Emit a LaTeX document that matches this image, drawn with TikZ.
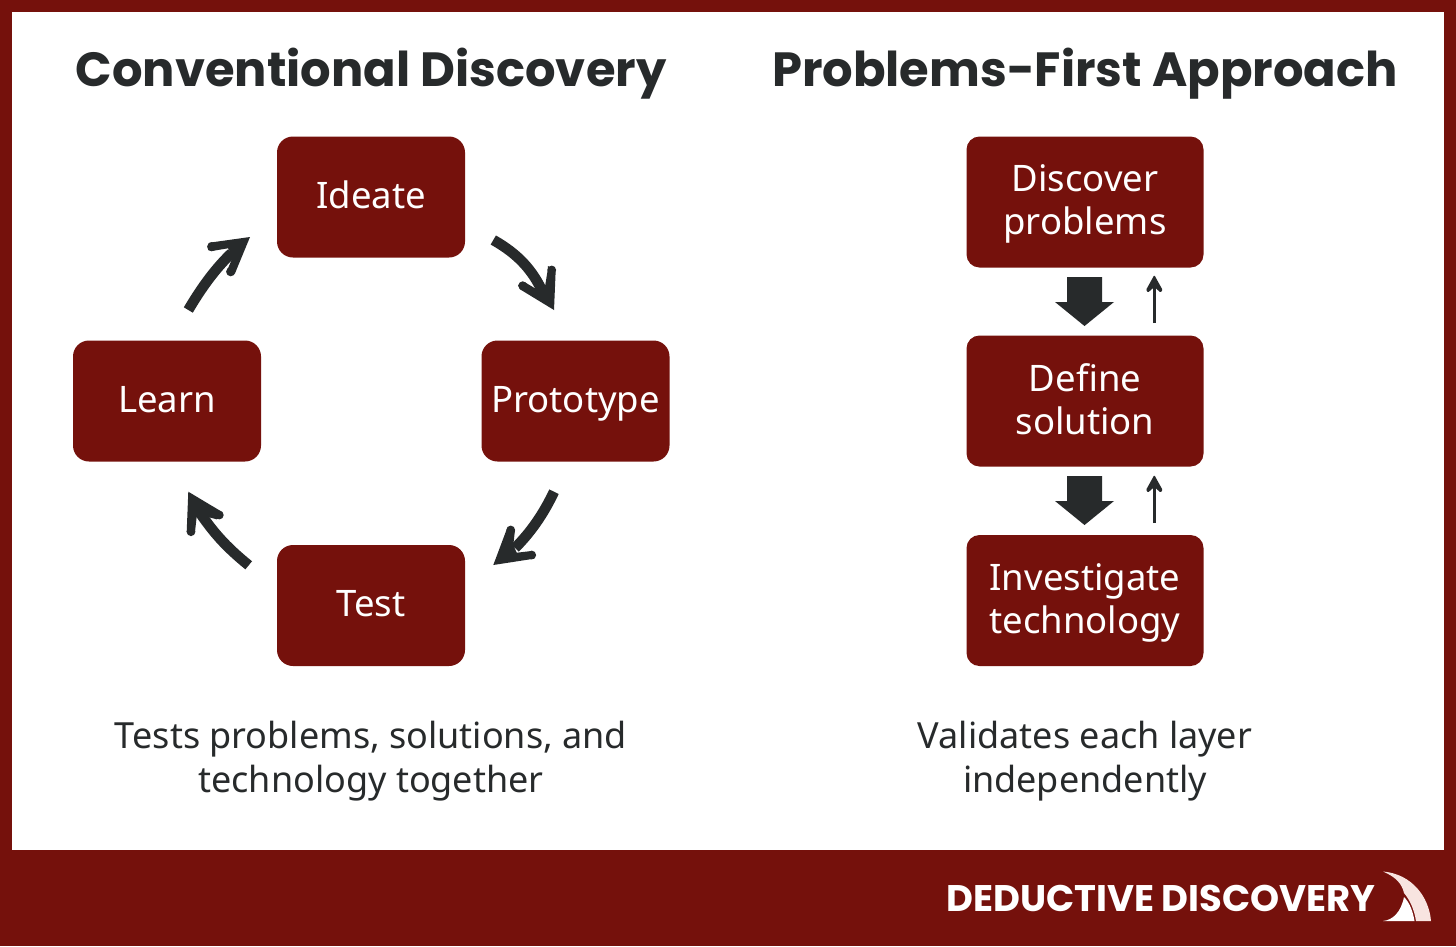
\documentclass[tikz,border=0pt]{standalone}
\usepackage{fontspec}
\setmainfont{Noto Sans}
\newfontfamily\titlefont{Poppins}
\definecolor{brick}{HTML}{75110C}
\definecolor{ink}{HTML}{272A2B}
\definecolor{blush}{HTML}{F8E4E0}
\newcommand\twolines[2]{\rule{0pt}{30pt}#1\\#2\rule[-9pt]{0pt}{9pt}}
\newcommand\twolinesb[2]{\rule{0pt}{31pt}#1\\#2\rule[-8pt]{0pt}{8pt}}
\tikzset{
 stage/.style={fill=brick,text=white,align=center,font=\fontsize{36.5}{43}\selectfont,inner sep=0pt},
 cyclebox/.style={stage,rounded corners=16pt,minimum width=188pt,minimum height=121pt,text height=22pt,text depth=0pt},
 layerbox/.style={stage,rounded corners=13pt,minimum width=237pt,minimum height=131pt},
 heading/.style={text=ink,font=\titlefont\bfseries\fontsize{48}{52}\selectfont,inner sep=0pt},
 caption/.style={text=ink,align=center,font=\fontsize{36}{43.5}\selectfont,inner sep=0pt},
 shaft/.style={draw=ink,line width=10.5pt},
 wedge/.style={fill=ink},
 thinup/.style={draw=ink,line width=3.6pt},
 bigdown/.style={fill=ink}
}
\begin{document}
\begin{tikzpicture}[x=1pt,y=-1pt]
\useasboundingbox (0,0) rectangle (1456,946);
\fill[brick] (0,0) rectangle (1456,946);
\fill[white] (12,12) rectangle (1444,850);
\node[heading] (t1) at (371,73.5) {Conventional Discovery};
\node[heading] (t2) at (1085,73.5) {Problems-First Approach};
\node[cyclebox] (ideate) at (371,197) {Ideate};
\node[cyclebox] (proto) at (575.5,401) {Prototype};
\node[cyclebox] (test) at (371,605.5) {Test};
\node[cyclebox] (learn) at (167,401) {Learn};
\node[layerbox] (disc) at (1085,202) {\twolines{Discover}{problems}};
\node[layerbox] (def) at (1085,401) {\twolinesb{Define}{solution}};
\node[layerbox] (inv) at (1085,600.5) {\twolinesb{Investigate}{technology}};
\node[caption] (c1) at (371,761) {Tests problems, solutions, and\\technology together};
\node[caption] (c2) at (1085,761) {Validates each layer\\independently};
% cycle arrows
\coordinate (a1s) at (188.3,310); \coordinate (a1e) at (231.7,253);
\draw[shaft] (a1s) .. controls (203,285) and (217,267) .. (a1e);
\fill[wedge] (250,237) -- (209.3,242.7) -- (208,250) -- (212,251) -- (228,248.3) -- (233,256.7) -- (227.3,270) -- (230.7,276) -- (235,273.3) -- cycle;
\fill[wedge] (211.7,246.7) circle (4.6pt) (230.7,271.7) circle (4.6pt);
\coordinate (a2s) at (493.3,240); \coordinate (a2e) at (541.7,290);
\draw[shaft] (a2s) .. controls (520,255) and (533,272) .. (a2e);
\fill[wedge] (554,310) -- (555.7,270) -- (548,266) -- (547.7,270) -- (545,286.7) -- (535,288.3) -- (525,282.3) -- (518,285) -- (520,289.3) -- cycle;
\fill[wedge] (551.7,270) circle (4.4pt) (522.7,285.7) circle (4.4pt);
\coordinate (a3s) at (554,491.7); \coordinate (a3e) at (515,548);
\draw[shaft] (a3s) .. controls (543,515) and (530,533) .. (a3e);
\fill[wedge] (493.3,565) -- (506.7,529.3) -- (511,526) -- (515,530) -- (513.3,545) -- (516.7,552.7) -- (531.7,551) -- (536,555) -- (534,558.7) -- cycle;
\fill[wedge] (510.7,530) circle (4.4pt) (531.7,555) circle (4.4pt);
\coordinate (a4s) at (248.7,565.3); \coordinate (a4e) at (198,510);
\draw[shaft] (a4s) .. controls (225,546) and (213,532) .. (a4e);
\fill[wedge] (188.3,491.7) -- (221.7,511.7) -- (223,516) -- (216.7,519.3) -- (200,515) -- (196.7,516.7) -- (195,531.7) -- (191,536) -- (186.7,531.7) -- cycle;
\fill[wedge] (219.3,515) circle (4.4pt) (191,531.7) circle (4.4pt);
% layer arrows
\fill[bigdown] (1067,277) -- (1102,277) -- (1102,302) -- (1114,302) -- (1084.5,326) -- (1055,302) -- (1067,302) -- cycle;
\fill[bigdown] (1067,476) -- (1102,476) -- (1102,501) -- (1114,501) -- (1084.5,525) -- (1055,501) -- (1067,501) -- cycle;
\coordinate (u1s) at (1154.3,323); \coordinate (u1t) at (1154.3,281);
\draw[thinup] (u1s) -- (u1t);
\fill[wedge,rounded corners=1pt] (1154.3,275) -- (1146,290) -- (1148,292.5) -- (1154.3,287) -- (1160.6,292.5) -- (1162.6,290) -- cycle;
\coordinate (u2s) at (1154.3,523); \coordinate (u2t) at (1154.3,481);
\draw[thinup] (u2s) -- (u2t);
\fill[wedge,rounded corners=1pt] (1154.3,475) -- (1146,490) -- (1148,492.5) -- (1154.3,487) -- (1160.6,492.5) -- (1162.6,490) -- cycle;
% footer
\node[anchor=east,text=white,inner sep=0pt,font=\titlefont\bfseries\fontsize{37}{40}\selectfont] (brand) at (1376,898) {DEDUCTIVE DISCOVERY};
\fill[blush] (1383,871.5) .. controls (1412,874) and (1429,897) .. (1431,921) -- (1416,921) .. controls (1414,908) and (1409,899) .. (1404,893) .. controls (1402,884) and (1396,877) .. (1383,871.5) -- cycle;
\fill[white] (1383,921) .. controls (1393,920) and (1401,912) .. (1404,897) .. controls (1410,903) and (1413,912) .. (1414.5,921) -- cycle;
\end{tikzpicture}
\end{document}
